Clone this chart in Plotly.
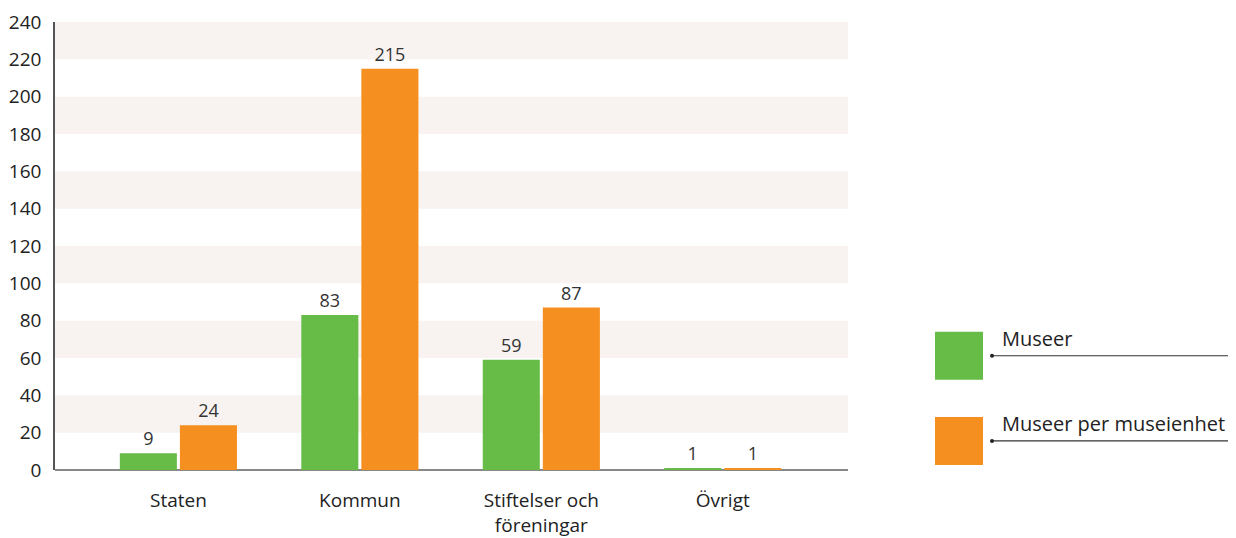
import plotly.graph_objects as go

categories = ["Staten", "Kommun", "Stiftelser och<br>föreningar", "Övrigt"]
series_names = ["Museer", "Museer per museienhet"]
museer = [9, 83, 59, 1]
per_enhet = [24, 215, 87, 1]
colors = ["#66bc46", "#f58f1f"]
y_ticks = list(range(0, 241, 20))

FONT = "Open Sans"
fig = go.Figure()
for name, vals, col in zip(series_names, [museer, per_enhet], colors):
    fig.add_trace(go.Bar(
        x=list(range(len(categories))), y=vals, name=name, marker_color=col,
        marker_line_width=0,
        text=[str(v) for v in vals], textposition="outside",
        textfont=dict(size=18, color="#333333", family=FONT),
        cliponaxis=False, showlegend=False, hoverinfo="skip",
    ))

# alternating background bands
for lo in range(20, 240, 40):
    fig.add_shape(type="rect", xref="paper", yref="y", x0=0, x1=1, y0=lo, y1=lo + 20,
                  fillcolor="#f8f3f0", line_width=0, layer="below")

# custom legend
leg_y = [0.255, 0.065]
for i, (name, col) in enumerate(zip(series_names, colors)):
    yc = leg_y[i]
    fig.add_shape(type="rect", xref="paper", yref="paper",
                  x0=(935 - 55) / 793, x1=(983 - 55) / 793,
                  y0=yc - 24 / 448, y1=yc + 24 / 448,
                  fillcolor=col, line_width=0)
    fig.add_shape(type="line", xref="paper", yref="paper",
                  x0=(992 - 55) / 793, x1=(1240 - 55) / 793,
                  y0=yc, y1=yc, line=dict(color="#333333", width=1.2))
    fig.add_shape(type="circle", xref="paper", yref="paper",
                  x0=(990 - 55) / 793, x1=(994 - 55) / 793,
                  y0=yc - 2 / 448, y1=yc + 2 / 448,
                  fillcolor="#222222", line_width=0)
    fig.add_annotation(xref="paper", yref="paper", x=(1000 - 55) / 793, y=yc + 2 / 448,
                       text=name, showarrow=False, xanchor="left", yanchor="bottom",
                       font=dict(size=20, color="#222222", family=FONT))

fig.update_layout(
    width=1228, height=530,
    margin=dict(l=47, r=388, t=14, b=68),
    plot_bgcolor="white", paper_bgcolor="white",
    barmode="group", bargap=0.338, bargroupgap=0.05,
    font=dict(family=FONT, size=19, color="#222222"),
    xaxis=dict(tickmode="array", tickvals=list(range(len(categories))), ticktext=categories,
               range=[-0.68, 3.69], showgrid=False, zeroline=False, automargin=False,
               showline=False, ticks="", ticklabelstandoff=17,
               tickfont=dict(size=19, color="#222222")),
    yaxis=dict(range=[0, 240], tickvals=y_ticks, showgrid=False, zeroline=True,
               zerolinecolor="#888888", zerolinewidth=2, automargin=False,
               showline=True, linecolor="#555555", linewidth=1.5,
               ticks="", ticklabelstandoff=8, tickfont=dict(size=19, color="#222222")),
)

fig.write_html("out.html")
